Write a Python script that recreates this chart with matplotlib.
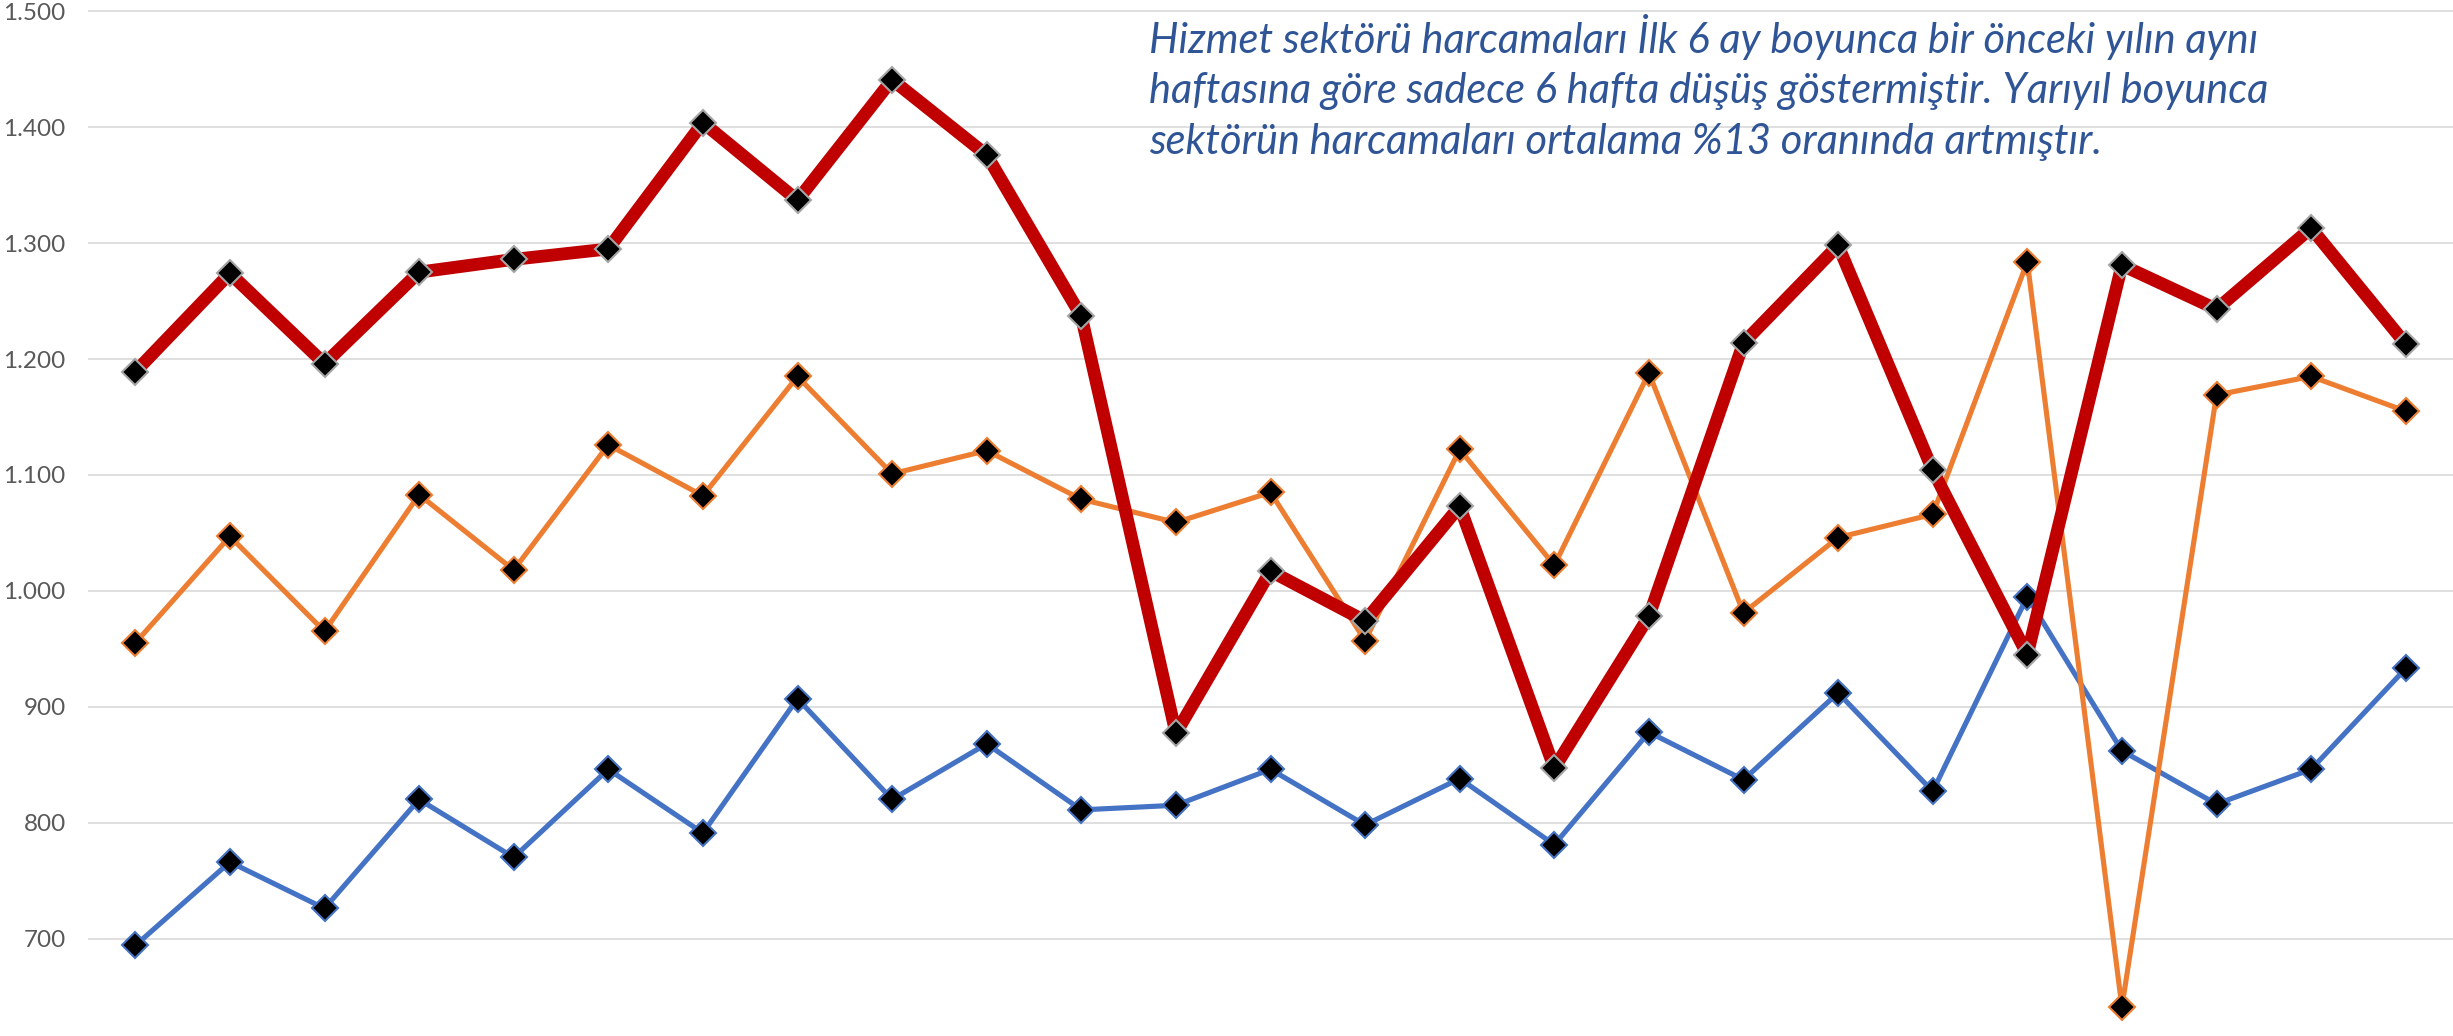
import matplotlib
matplotlib.use("Agg")
import matplotlib.pyplot as plt
from matplotlib.ticker import FuncFormatter

# haftalar (25 hafta)
weeks = list(range(1, 26))

# seri değerleri (grafikten okunmuş tahmini değerler)
blue_vals = [694, 766, 726, 820, 770, 846, 791, 907, 820, 868, 811, 815, 846,
             798, 838, 781, 878, 837, 912, 827, 995, 862, 816, 846, 933]
orange_vals = [955, 1047, 965, 1083, 1018, 1126, 1082, 1185, 1101, 1121, 1079, 1059, 1085,
               957, 1122, 1022, 1188, 981, 1046, 1066, 1284, 641, 1169, 1185, 1155]
red_vals = [1189, 1274, 1196, 1275, 1286, 1295, 1404, 1337, 1441, 1376, 1237, 877, 1017,
            974, 1073, 847, 978, 1214, 1298, 1104, 945, 1281, 1243, 1313, 1213]

yticks = [700, 800, 900, 1000, 1100, 1200, 1300, 1400, 1500]

note_lines = [
    "Hizmet sektörü harcamaları İlk 6 ay boyunca bir önceki yılın aynı",
    "haftasına göre sadece 6 hafta düşüş göstermiştir. Yarıyıl boyunca",
    "sektörün harcamaları ortalama %13 oranında artmıştır.",
]

plt.rcParams['font.family'] = ['Lato', 'DejaVu Sans']

W, H = 2453, 1036
fig = plt.figure(figsize=(W / 100, H / 100), dpi=100)
ax = fig.add_axes([88 / W, 0, 1 - 88 / W, 1])

x = list(range(len(weeks)))

# seriler: mavi, turuncu, kırmızı
ax.plot(x, blue_vals, color='#4472C4', lw=3.7, marker='D', ms=13,
        mfc='black', mec='#4472C4', mew=1.5, zorder=3)
ax.plot(x, orange_vals, color='#ED7D31', lw=3.7, marker='D', ms=13,
        mfc='black', mec='#ED7D31', mew=1.5, zorder=4)
ax.plot(x, red_vals, color='#C00000', lw=9.2, marker='D', ms=13,
        mfc='black', mec='#A5A5A5', mew=1.5, zorder=5)

ax.set_xlim(-0.5, len(weeks) - 0.5)
ax.set_ylim(615.9, 1509.8)
ax.set_yticks(yticks)
ax.set_xticks([])
ax.yaxis.set_major_formatter(FuncFormatter(lambda v, p: f"{int(v):,}".replace(",", ".")))
ax.tick_params(axis='y', length=0, pad=16, labelsize=17.5, labelcolor='#595959')
ax.grid(axis='y', color='#D9D9D9', lw=1.2, zorder=0)
for s in ax.spines.values():
    s.set_visible(False)

# açıklama metni
baselines = [53, 103, 154]
for line, b in zip(note_lines, baselines):
    fig.text(1149 / W, 1 - b / H, line, fontsize=30, style='italic',
             color='#2F5597', ha='left', va='baseline')

fig.savefig("out.png", dpi=100)
